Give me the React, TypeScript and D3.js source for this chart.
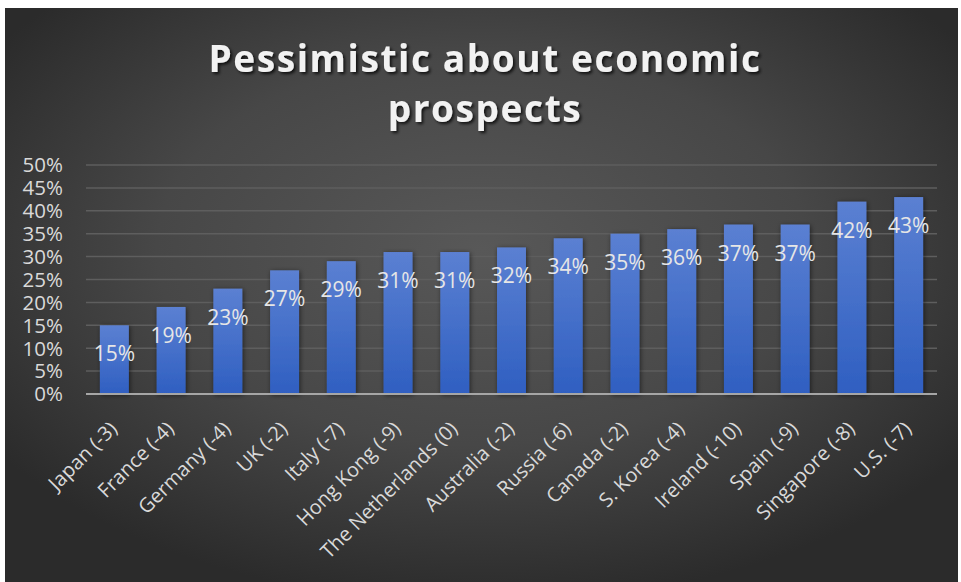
import React from "react";
import * as d3 from "d3";

const categories = [
  "Japan (-3)", "France (-4)", "Germany (-4)", "UK (-2)", "Italy (-7)",
  "Hong Kong (-9)", "The Netherlands (0)", "Australia (-2)", "Russia (-6)",
  "Canada (-2)", "S. Korea (-4)", "Ireland (-10)", "Spain (-9)",
  "Singapore (-8)", "U.S. (-7)",
];
const values = [15, 19, 23, 27, 29, 31, 31, 32, 34, 35, 36, 37, 37, 42, 43];
const yTicks = [0, 5, 10, 15, 20, 25, 30, 35, 40, 45, 50];
const titleLines = ["Pessimistic about economic", "prospects"];

const W = 961;
const H = 582;
const left = 86;
const right = 937;
const top = 165;
const bottom = 394;
const font = "'Open Sans', 'Noto Sans', sans-serif";

export default function App() {
  const x = d3.scaleBand<string>().domain(categories).range([left, right]).paddingInner(0.49).paddingOuter(0.245);
  const y = d3.scaleLinear().domain([0, 50]).range([bottom, top]);

  return (
    <svg width={W} height={H} style={{ position: "absolute", left: 0, top: 0 }} xmlns="http://www.w3.org/2000/svg">
      <defs>
        <radialGradient id="bg" cx="50%" cy="42%" r="62%">
          <stop offset="0%" stopColor="#585858" />
          <stop offset="55%" stopColor="#474747" />
          <stop offset="100%" stopColor="#2b2b2b" />
        </radialGradient>
        <linearGradient id="bar" x1="0" y1="0" x2="0" y2="1">
          <stop offset="0%" stopColor="#5b80d2" />
          <stop offset="100%" stopColor="#2f5fc1" />
        </linearGradient>
        <filter id="barShadow" x="-40%" y="-20%" width="180%" height="140%">
          <feDropShadow dx="1" dy="1" stdDeviation="2.5" floodColor="#000" floodOpacity="0.55" />
        </filter>
        <filter id="titleShadow" x="-10%" y="-30%" width="120%" height="160%">
          <feDropShadow dx="2" dy="2" stdDeviation="1.5" floodColor="#000" floodOpacity="0.75" />
        </filter>
      </defs>
      <rect x={0} y={0} width={W} height={H} fill="#ffffff" />
      <rect x={5} y={8} width={953} height={574} fill="url(#bg)" />

      {titleLines.map((t, i) => (
        <text key={t} x={485} y={72 + i * 50} textAnchor="middle" fill="#f2f2f2" fontFamily={font}
          fontWeight={700} fontSize={37} letterSpacing={1.6} filter="url(#titleShadow)">{t}</text>
      ))}

      {yTicks.map((t) => (
        <g key={t}>
          {t > 0 && (
            <line x1={left} x2={right} y1={y(t)} y2={y(t)} stroke="#5e5e5e" strokeWidth={1.5} />
          )}
          <text x={63} y={y(t)} dy="0.36em" textAnchor="end" fill="#d9d9d9" fontFamily={font} fontSize={20.5}>
            {t}%
          </text>
        </g>
      ))}

      {categories.map((c, i) => (
        <rect key={c} x={x(c)} y={y(values[i])} width={x.bandwidth()} height={bottom - y(values[i])}
          fill="url(#bar)" filter="url(#barShadow)" />
      ))}

      <line x1={left} x2={right} y1={bottom} y2={bottom} stroke="#a6a6a6" strokeWidth={2} />

      {categories.map((c, i) => (
        <text key={c + "v"} x={(x(c) as number) + x.bandwidth() / 2} y={y(values[i]) + 36}
          textAnchor="middle" fill="#e6e6e6" fontFamily={font} fontSize={21}>
          {values[i]}%
        </text>
      ))}

      {categories.map((c) => {
        const cx = (x(c) as number) + x.bandwidth() / 2 + 4;
        return (
          <text key={c + "l"} transform={`translate(${cx},${430}) rotate(-45)`} textAnchor="end"
            fill="#d9d9d9" fontFamily={font} fontSize={20}>
            {c}
          </text>
        );
      })}
    </svg>
  );
}
